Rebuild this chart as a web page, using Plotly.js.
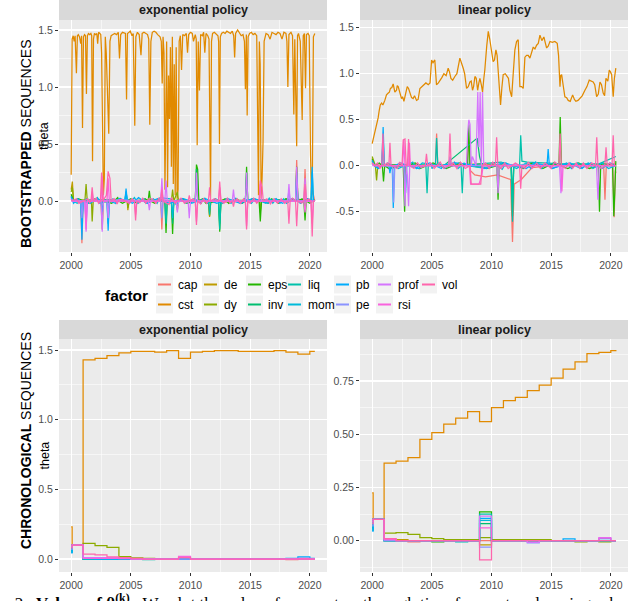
<!DOCTYPE html>
<html><head><meta charset="utf-8">
<script src="https://cdn.plot.ly/plotly-3.0.1.min.js"></script>
<style>html,body{margin:0;padding:0;background:#fff}#chart{width:640px;height:601px}</style>
</head><body><div id="chart"></div>
<script>
// ---------- categories / palette ----------
const factors = ['cap','cst','de','dy','eps','inv','liq','mom','pb','pe','prof','rsi','vol'];
const colors  = ['#F8766D','#E18A00','#BE9C00','#8CAB00','#24B700','#00BE70','#00C1AB','#00BBDA','#00ACFC','#8B93FF','#D575FE','#F962DD','#FF65AC'];
const xTickVals = [2000,2005,2010,2015,2020];
const xTickText = ['2000','2005','2010','2015','2020'];

// ---------- BOOTSTRAPPED / exponential policy  [year, theta] ----------
const bsExp_cap = [[2000,0.05],[2000.3,0.0],[2000.8,-0.01],[2000.9,-0.37],[2001.0,0.0],[2002,0.01],[2003,-0.01],[2004.5,0.01],[2006,0.0],[2007.5,0.0],[2007.6,-0.25],[2007.7,0.01],[2009,0.0],[2011,0.01],[2013,-0.01],[2015,0.0],[2017,0.01],[2018.8,0.0],[2018.9,0.36],[2019.0,0.02],[2019.5,0.0],[2019.6,0.28],[2019.7,0.0],[2020.1,0.0],[2020.2,0.1],[2020.42,0.0]];
const bsExp_cst = [[2000.00,0.23],[2000.08,1.42],[2000.17,1.45],[2000.25,1.40],[2000.33,1.45],[2000.44,1.12],[2000.52,1.45],[2000.6,1.46],[2000.7,1.44],[2000.8,1.38],[2000.87,1.45],[2000.95,0.64],[2001.03,1.44],[2001.12,1.46],[2001.2,1.45],[2001.28,0.94],[2001.36,1.45],[2001.45,1.47],[2001.55,1.46],[2001.65,1.47],[2001.72,1.45],[2001.79,0.35],[2001.87,1.42],[2001.95,1.47],[2002.05,1.46],[2002.15,1.47],[2002.22,1.38],[2002.3,1.48],[2002.4,1.47],[2002.48,1.46],[2002.55,1.3],[2002.62,0.55],[2002.7,0.05],[2002.78,0.2],[2002.86,1.44],[2002.94,1.3],[2003.02,1.05],[2003.15,0.59],[2003.25,1.4],[2003.35,1.45],[2003.5,1.46],[2003.65,1.47],[2003.8,1.46],[2003.95,1.48],[2004.05,1.25],[2004.15,1.46],[2004.3,1.48],[2004.45,1.47],[2004.55,1.47],[2004.64,0.89],[2004.72,1.47],[2004.85,1.48],[2004.95,1.49],[2005.1,1.45],[2005.2,1.47],[2005.33,0.66],[2005.42,1.44],[2005.55,1.48],[2005.7,1.46],[2005.85,1.28],[2005.95,1.47],[2006.1,1.48],[2006.25,1.47],[2006.4,1.46],[2006.5,1.42],[2006.59,0.67],[2006.68,1.4],[2006.8,1.48],[2006.95,1.49],[2007.1,1.48],[2007.25,1.46],[2007.45,1.44],[2007.55,1.4],[2007.63,1.03],[2007.7,1.44],[2007.78,1.3],[2007.86,0.1],[2007.93,0.75],[2008.0,1.4],[2008.08,0.12],[2008.16,1.1],[2008.24,0.72],[2008.32,1.35],[2008.4,0.3],[2008.48,1.44],[2008.56,0.15],[2008.64,1.2],[2008.72,0.05],[2008.8,1.35],[2008.88,0.02],[2008.96,0.1],[2009.05,1.4],[2009.15,1.45],[2009.25,1.15],[2009.35,1.46],[2009.5,1.45],[2009.65,1.47],[2009.75,1.3],[2009.85,1.46],[2010.0,1.48],[2010.15,1.47],[2010.25,1.40],[2010.4,1.46],[2010.48,1.42],[2010.56,0.49],[2010.65,1.4],[2010.75,0.97],[2010.85,1.46],[2011.0,1.45],[2011.1,1.48],[2011.2,1.3],[2011.3,1.47],[2011.45,1.45],[2011.55,1.42],[2011.62,0.2],[2011.68,0.03],[2011.76,1.4],[2011.85,1.47],[2012.0,1.48],[2012.15,1.46],[2012.3,1.45],[2012.36,1.4],[2012.43,0.5],[2012.5,1.44],[2012.6,1.47],[2012.75,1.48],[2012.9,1.47],[2013.05,1.49],[2013.2,1.48],[2013.35,1.47],[2013.5,1.49],[2013.62,1.45],[2013.7,1.26],[2013.78,1.47],[2013.95,1.5],[2014.1,1.47],[2014.25,1.45],[2014.4,1.46],[2014.52,1.4],[2014.6,0.98],[2014.68,1.46],[2014.75,0.75],[2014.83,1.44],[2014.95,1.47],[2015.1,1.48],[2015.25,1.46],[2015.4,1.47],[2015.55,1.45],[2015.63,0.8],[2015.7,0.05],[2015.77,1.4],[2015.84,1.2],[2015.92,0.02],[2016.0,0.2],[2016.08,0.52],[2016.17,1.4],[2016.33,1.47],[2016.5,1.46],[2016.67,1.42],[2016.83,1.48],[2017.0,1.47],[2017.17,1.46],[2017.33,1.48],[2017.5,1.47],[2017.67,1.42],[2017.83,1.48],[2018.0,1.47],[2018.08,1.4],[2018.16,1.0],[2018.25,1.46],[2018.42,1.48],[2018.55,1.45],[2018.66,0.76],[2018.74,1.42],[2018.82,0.93],[2018.9,0.48],[2018.97,1.45],[2019.05,1.47],[2019.2,1.4],[2019.36,0.71],[2019.45,1.45],[2019.55,1.47],[2019.64,0.99],[2019.72,1.46],[2019.85,1.47],[2019.95,1.45],[2020.06,0.4],[2020.14,0.05],[2020.22,0.3],[2020.3,1.44],[2020.42,1.47]];
const bsExp_de = [[2000,0.1],[2000.1,0.17],[2000.2,0.0],[2001,0.01],[2002.5,0.0],[2002.6,-0.25],[2002.7,0.0],[2004.7,0.0],[2004.75,-0.08],[2004.85,0.0],[2006,0.01],[2008.8,0.0],[2008.9,-0.08],[2009,0.0],[2011.5,0.0],[2011.6,-0.14],[2011.7,0.0],[2013,0.01],[2016,0.0],[2018,0.01],[2020.42,0.0]];
const bsExp_dy = [[2000,0.08],[2000.1,0.12],[2000.2,0.0],[2001.15,0.0],[2001.25,0.15],[2001.35,0.0],[2001.7,0.0],[2001.76,-0.18],[2001.85,0.0],[2003,0.01],[2004.7,0.0],[2004.75,-0.06],[2004.85,0.0],[2006.5,0.0],[2008.4,0.0],[2008.5,0.1],[2008.6,0.0],[2008.9,0.08],[2009.0,0.0],[2011.5,0.0],[2011.6,-0.13],[2011.7,0.0],[2013,0.0],[2015.8,0.0],[2015.85,-0.1],[2015.95,0.0],[2018,0.01],[2020.42,0.0]];
const bsExp_eps = [[2000,0.06],[2000.2,0.0],[2002,0.01],[2004,0.0],[2006.45,0.0],[2006.55,0.09],[2006.65,0.0],[2007.85,0.0],[2007.95,-0.28],[2008.05,0.0],[2008.4,0.0],[2008.5,-0.29],[2008.6,0.0],[2010.4,0.0],[2010.5,0.32],[2010.6,0.28],[2010.7,0.0],[2012.35,0.0],[2012.45,-0.27],[2012.55,0.0],[2014.6,0.0],[2014.7,0.3],[2014.8,0.0],[2015.75,0.0],[2015.85,-0.18],[2015.95,0.0],[2018.8,0.0],[2018.9,0.3],[2019.0,0.0],[2019.5,0.0],[2019.6,-0.17],[2019.7,0.0],[2020.42,0.01]];
const bsExp_inv = [[2000,0.04],[2000.2,0.0],[2003,0.01],[2006,0.0],[2008.4,0.0],[2008.5,-0.2],[2008.6,0.0],[2010.4,0.0],[2010.5,0.28],[2010.6,0.0],[2012.35,0.0],[2012.45,-0.2],[2012.55,0.0],[2014.6,0.0],[2014.7,0.25],[2014.8,0.0],[2017,0.01],[2020.42,0.0]];
const bsExp_liq = [[2000,0.03],[2000.2,0.0],[2002,0.01],[2004.5,0.0],[2004.6,0.08],[2004.7,0.0],[2007.85,0.0],[2007.95,-0.2],[2008.05,0.0],[2011.5,0.0],[2011.6,-0.12],[2011.7,0.0],[2012.35,0.0],[2012.45,-0.25],[2012.55,0.0],[2016,0.01],[2020.1,0.0],[2020.2,0.25],[2020.3,0.0],[2020.42,0.01]];
const bsExp_mom = [[2000,0.02],[2000.2,0.0],[2000.8,0.0],[2000.9,-0.2],[2001.0,0.0],[2003.0,0.0],[2003.1,-0.2],[2003.2,0.0],[2004.5,0.0],[2004.6,0.08],[2004.7,0.0],[2008.4,0.0],[2008.5,-0.15],[2008.6,0.0],[2011,0.01],[2014,0.0],[2018.8,0.0],[2018.9,0.2],[2019.0,0.0],[2020.42,0.0]];
const bsExp_pb = [[2000,0.04],[2000.2,-0.02],[2000.8,0.0],[2000.9,-0.34],[2001.0,0.0],[2002.5,0.0],[2002.6,-0.1],[2002.7,0.0],[2003.0,0.0],[2003.1,-0.26],[2003.2,0.0],[2004.5,0.0],[2004.6,0.11],[2004.7,0.0],[2007,0.01],[2010,0.0],[2013,0.01],[2016,0.0],[2018.8,0.0],[2018.9,0.25],[2019.0,0.0],[2020.1,0.0],[2020.2,0.3],[2020.3,0.0],[2020.42,0.0]];
const bsExp_pe = [[2000,0.02],[2000.2,0.0],[2000.8,0.0],[2000.9,-0.15],[2001.0,0.0],[2001.15,0.0],[2001.25,-0.2],[2001.35,0.0],[2004,0.01],[2007.5,0.0],[2007.6,-0.15],[2007.7,0.0],[2012,0.0],[2018.15,0.0],[2018.25,0.1],[2018.35,0.0],[2020.42,0.0]];
const bsExp_prof = [[2000,0.0],[2000.2,0.0],[2001.15,0.0],[2001.25,-0.27],[2001.35,0.0],[2002.5,0.0],[2002.6,-0.27],[2002.7,0.0],[2003.0,0.0],[2003.1,-0.15],[2003.2,0.0],[2006.45,0.0],[2006.55,-0.08],[2006.65,0.0],[2007.5,0.0],[2007.6,0.2],[2007.7,0.0],[2007.85,0.0],[2007.95,0.18],[2008.05,0.0],[2008.8,0.0],[2008.9,-0.1],[2009.0,0.0],[2009.8,0.0],[2009.9,-0.15],[2010.0,0.0],[2010.4,0.0],[2010.5,0.25],[2010.6,0.0],[2013.5,0.0],[2013.6,0.1],[2013.7,0.0],[2014.6,0.0],[2014.7,0.25],[2014.8,0.0],[2018.15,0.0],[2018.25,0.15],[2018.35,0.0],[2018.8,0.0],[2018.9,0.3],[2019.0,0.0],[2019.5,0.0],[2019.6,0.2],[2019.7,0.0],[2020.42,0.0]];
const bsExp_rsi = [[2000,0.01],[2000.2,0.0],[2001.15,0.0],[2001.25,-0.25],[2001.35,0.0],[2001.7,0.0],[2001.76,0.08],[2001.85,0.0],[2002.5,0.0],[2002.6,0.22],[2002.7,0.0],[2003.0,0.0],[2003.1,0.2],[2003.2,0.0],[2005.3,0.0],[2005.4,-0.12],[2005.5,0.0],[2007.5,0.0],[2007.6,0.12],[2007.7,0.0],[2010.4,0.0],[2010.5,-0.18],[2010.6,0.0],[2012.35,0.0],[2012.45,0.12],[2012.55,0.0],[2014.6,0.0],[2014.7,-0.22],[2014.8,0.0],[2015.75,0.0],[2015.85,0.15],[2015.95,0.0],[2019.5,0.0],[2019.6,-0.1],[2019.7,0.0],[2020.1,0.0],[2020.2,-0.2],[2020.3,0.0],[2020.42,0.0]];
const bsExp_vol = [[2000,0.0],[2000.3,0.01],[2001.0,0.0],[2001.66,0.0],[2001.76,0.12],[2001.86,0.0],[2002.45,0.0],[2002.55,0.25],[2002.65,0.0],[2002.95,0.05],[2003.1,0.26],[2003.25,0.2],[2003.35,0.0],[2004,0.01],[2005.3,0.0],[2005.4,-0.17],[2005.5,0.0],[2006.5,0.02],[2007.5,0.0],[2007.6,0.1],[2007.7,0.0],[2009.8,0.0],[2009.9,0.05],[2010.0,0.0],[2010.4,0.0],[2010.5,-0.21],[2010.6,0.0],[2011.5,0.0],[2011.6,0.12],[2011.7,0.0],[2012.35,0.0],[2012.45,0.17],[2012.55,0.0],[2013.5,0.0],[2013.6,-0.05],[2013.7,0.0],[2014.6,0.0],[2014.7,-0.25],[2014.8,0.0],[2015.75,0.0],[2015.85,0.18],[2016.0,0.12],[2016.1,0.0],[2018.15,0.0],[2018.25,-0.2],[2018.35,0.0],[2018.8,0.0],[2018.9,-0.22],[2019.0,0.0],[2019.5,0.0],[2019.6,0.15],[2019.7,0.0],[2020.1,0.0],[2020.2,-0.31],[2020.3,0.0],[2020.42,0.0]];
// small month-to-month wiggles around zero (extra observations of the same series)
const bsExpJit_eps = [[2000.6,0.02],[2001.5,-0.02],[2002.0,0.02],[2003.4,-0.02],[2003.9,0.03],[2004.3,-0.02],[2005.0,0.02],[2005.5,-0.02],[2006.2,0.02],[2007.0,-0.02],[2007.3,0.02],[2009.4,0.02],[2009.7,-0.02],[2011.0,0.02],[2011.3,-0.02],[2012.9,0.02],[2013.2,-0.02],[2013.85,0.02],[2014.35,-0.02],[2015.2,0.02],[2016.5,-0.02],[2016.8,0.02],[2017.4,-0.02],[2018.0,0.02],[2019.35,0.02],[2020.0,-0.02]];
const bsExpJit_mom = [[2000.5,-0.02],[2001.3,0.02],[2001.6,-0.02],[2002.2,0.03],[2002.4,-0.02],[2003.5,0.02],[2003.75,-0.02],[2004.1,0.025],[2004.85,-0.02],[2005.3,0.03],[2005.6,-0.02],[2006.1,0.02],[2006.4,-0.02],[2006.9,0.02],[2007.2,-0.02],[2007.45,0.03],[2008.3,0.02],[2008.8,-0.03],[2009.3,0.02],[2009.6,-0.02],[2010.3,0.02],[2010.9,-0.02],[2011.2,0.025],[2011.4,-0.02],[2012.1,0.02],[2012.7,-0.02],[2013.0,0.02],[2013.4,-0.02],[2013.8,0.025],[2014.3,-0.02],[2014.5,0.02],[2015.1,-0.02],[2015.4,0.02],[2016.3,-0.02],[2016.6,0.025],[2016.9,-0.02],[2017.2,0.02],[2017.5,-0.02],[2017.8,0.02],[2018.05,-0.02],[2018.6,0.02],[2019.2,-0.02],[2019.8,0.02]];
const bsExpJit_pb = [[2000.55,0.02],[2001.45,-0.02],[2002.25,0.02],[2003.7,-0.02],[2004.0,0.02],[2005.15,-0.02],[2005.65,0.03],[2006.3,-0.02],[2007.25,0.02],[2008.25,-0.02],[2009.4,0.02],[2010.1,-0.02],[2011.25,0.02],[2012.2,-0.02],[2013.15,0.02],[2014.15,-0.02],[2015.2,0.02],[2016.5,-0.02],[2017.1,0.02],[2017.7,-0.02],[2018.5,0.02],[2019.25,-0.02],[2019.85,0.02]];
const bsExpJit_vol = [[2000.45,0.02],[2000.65,-0.02],[2001.4,0.02],[2001.55,-0.015],[2002.1,0.025],[2002.3,-0.02],[2003.6,0.02],[2003.85,-0.025],[2004.25,0.015],[2004.9,-0.02],[2005.1,0.02],[2005.75,-0.015],[2006.0,0.025],[2006.25,-0.02],[2006.8,0.02],[2007.1,-0.02],[2007.35,0.025],[2008.2,-0.03],[2008.4,0.03],[2008.7,-0.02],[2009.2,0.025],[2009.5,-0.02],[2010.2,0.02],[2010.85,-0.025],[2011.1,0.02],[2011.35,-0.02],[2012.0,0.02],[2012.8,-0.02],[2013.1,0.025],[2013.3,-0.015],[2013.9,0.02],[2014.2,-0.02],[2014.45,0.02],[2015.0,-0.02],[2015.3,0.025],[2015.55,-0.02],[2016.4,0.02],[2016.7,-0.025],[2017.0,0.02],[2017.3,-0.02],[2017.6,0.02],[2017.9,-0.02],[2018.55,0.025],[2019.3,-0.02],[2019.9,0.02]];

// ---------- BOOTSTRAPPED / linear policy ----------
const bsLin_cap = [[2000,0.05],[2000.3,0.0],[2002,0.01],[2005.3,0.0],[2005.4,0.35],[2005.5,0.0],[2007,0.01],[2007.95,0.0],[2008.06,0.35],[2008.2,-0.05],[2008.6,-0.1],[2009.5,-0.12],[2010.5,-0.1],[2011.6,-0.15],[2011.76,-0.83],[2011.9,-0.2],[2012.5,-0.15],[2013.4,-0.02],[2015,0.0],[2017,0.01],[2019.4,0.0],[2019.51,-0.37],[2019.62,0.0],[2020.15,0.0],[2020.28,-0.56],[2020.38,-0.05],[2020.42,-0.08]];
const bsLin_cst = [[2000.0,0.24],[2000.22,0.35],[2000.36,0.42],[2000.59,0.6],[2000.79,0.68],[2001.06,0.71],[2001.35,0.79],[2001.53,0.84],[2001.76,0.89],[2002.04,0.82],[2002.18,0.86],[2002.46,0.73],[2002.66,0.70],[2002.94,0.86],[2003.16,0.79],[2003.43,0.73],[2003.72,0.71],[2004.0,0.84],[2004.33,0.88],[2004.7,0.88],[2004.98,1.15],[2005.25,1.15],[2005.39,0.88],[2005.73,0.93],[2006.01,1.0],[2006.37,1.06],[2006.6,0.95],[2006.93,0.97],[2007.35,1.17],[2007.63,1.06],[2007.91,0.84],[2008.19,0.91],[2008.41,0.82],[2008.61,0.97],[2008.84,0.82],[2009.03,0.95],[2009.25,0.8],[2009.44,1.04],[2009.73,1.46],[2009.95,1.29],[2010.14,1.13],[2010.37,1.26],[2010.56,0.99],[2010.76,0.66],[2010.98,0.99],[2011.31,0.97],[2011.54,0.82],[2011.69,0.75],[2011.96,1.26],[2012.24,1.37],[2012.38,0.86],[2012.66,0.84],[2012.94,1.2],[2013.22,1.17],[2013.5,1.29],[2013.78,1.31],[2014.06,1.42],[2014.39,1.40],[2014.62,1.28],[2014.9,1.35],[2015.31,1.35],[2015.51,1.33],[2015.74,0.86],[2015.88,0.99],[2016.15,0.75],[2016.43,0.71],[2016.8,0.77],[2017.07,0.70],[2017.41,0.73],[2017.83,0.82],[2018.19,0.93],[2018.52,0.91],[2018.81,0.75],[2019.09,0.91],[2019.36,0.79],[2019.59,0.95],[2019.87,1.04],[2020.07,0.99],[2020.2,0.75],[2020.42,1.06]];
const bsLinJit_cst = [[2000.5,0.52],[2000.68,0.66],[2000.9,0.66],[2001.2,0.77],[2001.44,0.8],[2001.65,0.85],[2001.9,0.8],[2002.1,0.87],[2002.3,0.8],[2002.55,0.75],[2002.8,0.78],[2003.05,0.84],[2003.3,0.74],[2003.55,0.76],[2003.85,0.72],[2004.15,0.86],[2004.5,0.9],[2004.85,0.9],[2005.1,1.12],[2005.55,0.9],[2005.85,0.96],[2006.2,0.98],[2006.48,1.02],[2006.75,0.93],[2007.1,1.0],[2007.5,1.12],[2007.75,1.0],[2008.05,0.86],[2008.3,0.92],[2008.5,0.86],[2008.72,0.95],[2008.94,0.9],[2009.15,0.88],[2009.35,0.94],[2009.6,1.3],[2009.85,1.38],[2010.05,1.2],[2010.25,1.15],[2010.47,1.2],[2010.66,0.8],[2010.87,0.85],[2011.15,1.0],[2011.42,0.95],[2011.82,1.0],[2012.1,1.35],[2012.52,0.86],[2012.8,1.18],[2013.08,1.2],[2013.36,1.22],[2013.64,1.27],[2013.92,1.33],[2014.22,1.36],[2014.5,1.34],[2014.75,1.3],[2015.1,1.34],[2015.42,1.34],[2015.62,1.2],[2015.8,0.98],[2016.0,0.88],[2016.3,0.74],[2016.6,0.7],[2016.95,0.72],[2017.25,0.71],[2017.6,0.76],[2018.0,0.86],[2018.35,0.92],[2018.65,0.88],[2018.95,0.78],[2019.22,0.88],[2019.48,0.76],[2019.75,0.92],[2019.97,1.02],[2020.3,0.95]];
const bsLin_de = [[2000,0.08],[2000.2,0.0],[2003,0.01],[2006,0.0],[2009,0.02],[2012,0.0],[2015,0.01],[2018,0.0],[2020.42,0.02]];
const bsLin_dy = [[2000,0.1],[2000.27,0.0],[2000.37,-0.16],[2000.47,0.0],[2002,0.01],[2004,0.0],[2007,0.01],[2009,0.0],[2012,0.0],[2016,0.01],[2020.42,0.0]];
const bsLin_eps = [[2000,0.07],[2000.2,0.0],[2000.85,0.0],[2000.95,-0.17],[2001.05,0.0],[2002.6,0.0],[2002.72,-0.5],[2002.82,0.0],[2004,0.0],[2007,0.01],[2008.0,0.0],[2008.1,0.45],[2008.2,0.0],[2010.45,0.0],[2010.55,-0.37],[2010.65,0.0],[2011.65,0.0],[2011.76,-0.55],[2011.86,0.0],[2013,0.01],[2015.65,0.0],[2015.76,0.53],[2015.86,0.0],[2018.95,0.0],[2019.05,-0.5],[2019.15,0.0],[2020.15,0.0],[2020.25,-0.55],[2020.33,-0.3],[2020.42,0.05]];
const bsLin_inv = [[2000,0.05],[2000.2,0.0],[2003,0.01],[2006,0.0],[2008.8,0.3],[2009.0,0.1],[2009.2,0.0],[2011.65,0.0],[2011.76,-0.4],[2011.86,0.0],[2014,0.01],[2018,0.0],[2020.42,0.0]];
const bsLin_liq = [[2000,0.04],[2000.2,0.0],[2003,0.0],[2004.5,0.0],[2004.6,-0.3],[2004.7,0.0],[2005.3,0.0],[2005.4,0.3],[2005.5,0.0],[2007.45,0.0],[2007.55,-0.3],[2007.65,0.0],[2009,0.02],[2010.8,0.04],[2011.65,0.0],[2011.76,-0.61],[2011.86,0.0],[2012.35,0.0],[2012.45,0.33],[2012.55,0.05],[2013,0.04],[2016,0.02],[2019,0.02],[2020.42,0.1]];
const bsLin_mom = [[2000,0.03],[2000.2,0.0],[2000.8,0.0],[2000.92,0.3],[2001.02,0.0],[2002.7,0.0],[2002.8,-0.3],[2002.9,0.0],[2005,0.01],[2008,0.0],[2010,0.02],[2014,0.0],[2017,0.01],[2020.42,0.0]];
const bsLin_pb = [[2000,0.06],[2000.2,0.0],[2000.8,0.0],[2000.92,0.42],[2001.02,0.0],[2001.4,0.0],[2001.49,-0.08],[2001.58,0.0],[2001.68,0.0],[2001.77,-0.46],[2001.86,0.0],[2003,0.0],[2006,0.01],[2009,0.0],[2012,0.0],[2014.65,0.0],[2014.75,0.18],[2014.85,0.0],[2017,0.0],[2020.42,0.0]];
const bsLin_pe = [[2000,0.02],[2000.2,0.0],[2001.7,0.0],[2001.8,-0.4],[2001.9,0.0],[2004,0.0],[2006.42,0.0],[2006.52,0.1],[2006.62,0.0],[2009,0.0],[2012,0.01],[2015,0.0],[2018,0.0],[2020.42,0.0]];
const bsLin_prof = [[2000,0.0],[2000.2,0.0],[2002.65,0.0],[2002.75,-0.44],[2002.85,0.0],[2002.95,-0.1],[2003.05,-0.44],[2003.15,0.0],[2005,0.0],[2007.9,0.0],[2008.0,0.35],[2008.1,0.5],[2008.2,0.45],[2008.3,0.0],[2008.4,0.1],[2008.7,0.0],[2008.85,0.8],[2008.95,0.2],[2009.05,0.8],[2009.15,0.0],[2009.25,0.8],[2009.35,0.0],[2010.45,0.0],[2010.55,-0.3],[2010.65,0.0],[2013,0.0],[2015.7,0.0],[2015.82,-0.3],[2015.92,0.0],[2018.8,0.0],[2018.92,-0.37],[2019.02,0.0],[2020,0.0],[2020.42,0.0]];
const bsLin_rsi = [[2000,0.03],[2000.2,0.0],[2002.55,0.0],[2002.65,0.28],[2002.75,0.0],[2003.05,0.0],[2003.12,0.25],[2003.2,0.0],[2005,0.0],[2008.15,0.0],[2008.25,-0.2],[2008.95,-0.2],[2009.2,-0.1],[2009.3,0.0],[2012,0.0],[2015.8,0.0],[2015.9,-0.28],[2016.0,0.0],[2018,0.0],[2020.42,0.0]];
const bsLin_vol = [[2000,0.03],[2000.2,0.0],[2000.8,0.0],[2000.9,0.35],[2001.0,0.0],[2001.4,0.0],[2001.49,0.25],[2001.58,0.0],[2002.5,0.0],[2002.6,0.28],[2002.75,0.29],[2002.85,0.0],[2002.95,0.0],[2003.05,0.29],[2003.15,0.0],[2004.45,0.0],[2004.55,0.13],[2004.65,0.0],[2006.42,0.0],[2006.52,0.35],[2006.62,0.0],[2008.2,0.0],[2008.3,-0.2],[2009.1,-0.2],[2009.2,0.0],[2010.33,0.0],[2010.43,0.31],[2010.53,0.0],[2012.35,0.0],[2012.45,-0.25],[2012.55,0.0],[2015.65,0.0],[2015.75,0.35],[2015.85,0.0],[2018.72,0.0],[2018.82,0.31],[2018.92,0.0],[2019.5,0.0],[2019.6,0.2],[2019.7,0.0],[2020.1,0.0],[2020.2,0.33],[2020.3,0.0],[2020.42,0.0]];
const bsLinJit_eps = [[2000.6,0.03],[2001.4,-0.03],[2003.6,0.03],[2004.0,-0.03],[2005.1,0.03],[2006.2,-0.03],[2007.3,0.03],[2009.7,-0.03],[2011.0,0.03],[2012.7,-0.03],[2013.5,0.03],[2014.3,-0.03],[2015.2,0.03],[2016.4,-0.03],[2017.3,0.03],[2018.2,-0.03],[2019.3,0.03]];
const bsLinJit_mom = [[2000.5,-0.03],[2001.3,0.03],[2002.2,-0.03],[2003.4,0.04],[2003.7,-0.03],[2004.2,0.03],[2005.0,-0.03],[2005.6,0.03],[2006.1,-0.03],[2006.9,0.04],[2007.2,-0.03],[2007.7,0.03],[2009.6,-0.03],[2010.2,0.03],[2010.9,-0.04],[2011.2,0.03],[2012.1,-0.03],[2012.9,0.03],[2013.3,-0.03],[2013.7,0.04],[2014.2,-0.03],[2014.6,0.03],[2015.1,-0.03],[2016.3,0.03],[2016.7,-0.03],[2017.2,0.03],[2017.6,-0.03],[2018.1,0.03],[2018.5,-0.03],[2019.3,0.03],[2019.8,-0.03]];
const bsLinJit_pb = [[2000.55,-0.03],[2002.4,0.03],[2003.9,-0.03],[2004.8,0.03],[2005.8,-0.03],[2007.0,0.03],[2009.45,-0.03],[2010.95,0.03],[2012.9,-0.03],[2013.6,0.03],[2015.05,-0.03],[2016.6,0.03],[2017.5,-0.03],[2018.3,0.03],[2019.25,-0.03],[2019.95,0.03]];
const bsLinJit_vol = [[2000.45,0.03],[2000.65,-0.03],[2001.25,0.03],[2002.1,-0.03],[2002.3,0.04],[2003.5,-0.03],[2003.8,0.03],[2004.1,-0.02],[2004.9,0.03],[2005.2,-0.03],[2005.7,0.04],[2006.0,-0.03],[2006.8,0.03],[2007.1,-0.03],[2007.4,0.04],[2007.8,-0.03],[2009.5,0.03],[2009.8,-0.03],[2010.1,0.04],[2010.8,-0.03],[2011.1,0.03],[2011.4,-0.03],[2012.0,0.03],[2012.8,-0.03],[2013.1,0.04],[2013.4,-0.03],[2013.8,0.03],[2014.1,-0.03],[2014.5,0.03],[2015.0,-0.03],[2015.3,0.04],[2016.2,-0.03],[2016.5,0.03],[2016.8,-0.03],[2017.1,0.03],[2017.4,-0.03],[2017.7,0.03],[2018.0,-0.03],[2018.4,0.03],[2019.2,-0.03],[2019.9,0.03]];

// ---------- CHRONOLOGICAL (yearly steps) ----------
const chrT = [2000,2000.08,2001,2002,2003,2004,2005,2006,2007,2008,2009,2010,2011,2012,2013,2014,2015,2016,2017,2018,2019,2020,2020.42];
const chrExp_cap  = [0.07,0.1,0.0,0.0,0.005,0.0,0.0,0.0,0.0,0.0,0.005,0.0,0.0,0.0,0.0,0.0,0.0,0.0,0.0,-0.005,0.0,0.0,0.0];
const chrExp_cst  = [0.23,0.10,1.43,1.44,1.46,1.48,1.49,1.49,1.485,1.495,1.44,1.485,1.49,1.495,1.495,1.49,1.49,1.49,1.495,1.485,1.47,1.49,1.49];
const chrExp_de   = [0.08,0.1,0.005,0.0,0.0,0.0,0.0,0.0,0.0,0.0,0.0,0.0,0.0,0.0,0.0,0.0,0.0,0.0,0.0,0.0,0.0,0.0,0.0];
const chrExp_dy   = [0.08,0.1,0.113,0.096,0.083,0.018,0.008,0.005,0.003,0.002,0.002,0.0,0.0,0.0,0.0,0.0,0.0,0.0,0.0,0.0,0.0,0.0,0.0];
const chrExp_eps  = [0.06,0.1,0.0,0.0,0.0,0.0,0.0,0.0,0.0,0.0,0.0,0.0,0.0,0.0,0.0,0.0,0.0,0.0,0.0,0.0,0.0,0.0,0.0];
const chrExp_inv  = [0.05,0.1,0.0,0.0,0.0,0.0,0.0,0.0,0.0,0.0,0.0,0.0,0.0,0.0,0.0,0.0,0.0,0.0,0.0,0.0,0.0,0.0,0.0];
const chrExp_liq  = [0.06,0.1,0.0,0.0,0.0,0.0,0.0,-0.005,0.0,0.0,0.0,0.0,0.0,0.0,0.0,0.0,0.0,0.0,0.0,0.0,0.0,0.0,0.0];
const chrExp_mom  = [0.05,0.1,0.0,0.0,0.0,0.0,0.0,0.0,0.0,0.0,0.0,-0.003,0.0,0.0,0.0,0.0,0.0,0.0,0.0,0.0,0.005,0.0,0.0];
const chrExp_pb   = [0.045,0.1,0.005,0.0,0.0,0.0,0.0,0.0,0.0,0.0,0.0,0.0,0.0,0.0,0.0,0.0,0.0,0.0,0.0,0.005,0.015,0.005,0.005];
const chrExp_pe   = [0.07,0.1,0.01,0.008,0.006,0.004,0.0,0.0,0.0,0.0,0.0,0.0,0.0,0.0,0.0,0.0,0.0,0.0,0.0,0.0,0.0,0.0,0.0];
const chrExp_prof = [0.09,0.1,0.01,0.01,0.008,0.005,0.003,0.0,0.0,0.0,0.01,0.0,0.0,0.0,0.0,0.0,0.0,0.0,0.0,0.0,0.0,0.0,0.0];
const chrExp_rsi  = [0.1,0.1,0.005,0.005,0.005,0.003,0.0,0.0,0.0,0.0,0.02,0.0,0.0,0.0,0.0,0.0,0.0,0.0,0.0,0.0,0.005,0.0,0.0];
const chrExp_vol  = [0.08,0.1,0.035,0.03,0.015,0.01,0.005,0.0,0.0,0.0,0.01,0.0,0.0,0.0,0.0,0.0,0.0,0.0,0.0,0.0,0.0,0.0,0.0];

const chrLin_cap  = [0.06,0.1,0.0,0.0,-0.005,0.0,0.0,0.0,0.0,0.0,0.0,0.0,0.0,0.0,0.0,0.0,0.0,0.0,0.0,0.0,0.0,0.0,0.0];
const chrLin_cst  = [0.225,0.10,0.364,0.374,0.39,0.476,0.507,0.547,0.575,0.606,0.559,0.625,0.658,0.673,0.705,0.731,0.763,0.805,0.84,0.878,0.884,0.893,0.895];
const chrLin_de   = [0.08,0.1,0.005,0.005,0.0,0.0,0.0,0.0,0.0,0.0,-0.02,0.0,0.0,0.0,0.0,0.0,0.0,0.0,0.0,0.0,0.0,0.0,0.0];
const chrLin_dy   = [0.08,0.1,0.035,0.038,0.03,0.015,0.01,0.005,0.005,0.005,0.015,0.005,0.005,0.005,0.005,0.005,0.0,0.0,-0.005,0.0,-0.005,0.0,0.0];
const chrLin_eps  = [0.06,0.1,0.0,0.0,0.0,0.0,-0.005,0.0,0.0,0.0,0.135,0.0,0.0,0.0,0.0,0.0,0.0,0.0,0.0,0.0,0.0,0.0,0.0];
const chrLin_inv  = [0.05,0.1,0.0,0.0,0.0,0.0,0.0,0.0,0.0,0.0,0.08,0.0,0.0,0.0,0.0,0.0,0.0,0.0,0.0,0.0,0.0,0.0,0.0];
const chrLin_liq  = [0.06,0.1,0.0,0.0,0.0,0.0,0.0,0.0,-0.005,0.0,0.125,0.0,0.0,0.0,0.0,0.0,0.0,0.0,0.0,0.0,0.0,0.0,0.0];
const chrLin_mom  = [0.05,0.1,0.0,0.0,0.0,0.0,0.0,0.0,0.0,0.0,0.095,0.0,0.0,0.0,0.0,0.0,0.0,0.0,0.0,0.0,0.0,0.0,0.0];
const chrLin_pb   = [0.045,0.1,0.0,0.0,0.0,0.0,0.0,0.0,0.0,0.0,0.105,0.0,0.0,0.0,0.0,0.0,0.0,0.008,0.0,0.0,0.01,0.0,0.0];
const chrLin_pe   = [0.07,0.1,0.0,0.0,0.0,0.0,0.0,0.0,0.0,0.0,-0.03,0.0,0.0,0.0,-0.01,0.0,0.0,0.0,0.0,0.0,0.0,0.0,0.0];
const chrLin_prof = [0.09,0.1,0.01,0.0,0.0,0.0,0.0,0.0,0.0,0.0,0.115,0.0,0.0,0.0,-0.008,0.0,0.0,0.0,0.0,0.0,0.015,0.0,0.0];
const chrLin_rsi  = [0.1,0.1,0.005,0.0,0.0,0.0,0.0,0.0,0.0,0.0,0.06,0.0,0.0,0.0,0.0,0.0,0.0,0.0,0.0,0.0,0.012,0.0,0.0];
const chrLin_vol  = [0.08,0.1,0.01,0.0,0.0,0.0,0.0,0.0,0.0,0.0,-0.09,0.0,0.0,0.0,0.0,0.0,0.0,0.0,0.0,0.0,0.0,0.0,0.0];

// y tick labels per panel
const yTL_vals = [0,0.5,1,1.5],        yTL_text = ['0.0','0.5','1.0','1.5'];
const yTR_vals = [-0.5,0,0.5,1,1.5],   yTR_text = ['-0.5','0.0','0.5','1.0','1.5'];
const yBR_vals = [0,0.25,0.5,0.75],    yBR_text = ['0.00','0.25','0.50','0.75'];

// ---------- build ----------
const bsExp = [bsExp_cap,bsExp_cst,bsExp_de,bsExp_dy,bsExp_eps,bsExp_inv,bsExp_liq,bsExp_mom,bsExp_pb,bsExp_pe,bsExp_prof,bsExp_rsi,bsExp_vol];
const bsExpJit = [null,null,null,null,bsExpJit_eps,null,null,bsExpJit_mom,bsExpJit_pb,null,null,null,bsExpJit_vol];
const bsLin = [bsLin_cap,bsLin_cst,bsLin_de,bsLin_dy,bsLin_eps,bsLin_inv,bsLin_liq,bsLin_mom,bsLin_pb,bsLin_pe,bsLin_prof,bsLin_rsi,bsLin_vol];
const bsLinJit = [null,bsLinJit_cst,null,null,bsLinJit_eps,null,null,bsLinJit_mom,bsLinJit_pb,null,null,null,bsLinJit_vol];
const chrExp = [chrExp_cap,chrExp_cst,chrExp_de,chrExp_dy,chrExp_eps,chrExp_inv,chrExp_liq,chrExp_mom,chrExp_pb,chrExp_pe,chrExp_prof,chrExp_rsi,chrExp_vol];
const chrLin = [chrLin_cap,chrLin_cst,chrLin_de,chrLin_dy,chrLin_eps,chrLin_inv,chrLin_liq,chrLin_mom,chrLin_pb,chrLin_pe,chrLin_prof,chrLin_rsi,chrLin_vol];

const W = 640, H = 601;
const px = v => v / W, py = v => 1 - v / H;
const FONT = 'Liberation Sans, Arial, sans-serif';

const traces = [];
function addPairs(list, extra, xa, ya) {
  list.forEach((arr, i) => {
    const all = (extra[i] ? arr.concat(extra[i]) : arr.slice()).sort((a, b) => a[0] - b[0]);
    traces.push({type:'scatter', mode:'lines', x: all.map(p => p[0]), y: all.map(p => p[1]),
      xaxis: xa, yaxis: ya, line: {color: colors[i], width: 1.25}, hoverinfo: 'skip', showlegend: false, name: factors[i]});
  });
}
function addSteps(list, xa, ya) {
  list.forEach((arr, i) => traces.push({type:'scatter', mode:'lines', x: chrT, y: arr,
    xaxis: xa, yaxis: ya, line: {color: colors[i], width: 1.25, shape: 'hv'}, hoverinfo: 'skip', showlegend: false, name: factors[i]}));
}
addPairs(bsExp, bsExpJit, 'x', 'y');
addPairs(bsLin, bsLinJit, 'x2', 'y2');
addSteps(chrExp, 'x3', 'y3');
addSteps(chrLin, 'x4', 'y4');

const panels = [
  {xd:[59,327],  yd:[20,252],  yr:[-0.447,1.588], tv:yTL_vals, tt:yTL_text, minor:[-0.25,0.25,0.75,1.25], strip:[0,20],   title:'exponential policy'},
  {xd:[360,628], yd:[20,252],  yr:[-0.938,1.584], tv:yTR_vals, tt:yTR_text, minor:[-0.75,-0.25,0.25,0.75,1.25], strip:[0,20], title:'linear policy'},
  {xd:[59,327],  yd:[339,572], yr:[-0.093,1.579], tv:yTL_vals, tt:yTL_text, minor:[0.25,0.75,1.25], strip:[320,339], title:'exponential policy'},
  {xd:[360,628], yd:[339,572], yr:[-0.147,0.947], tv:yBR_vals, tt:yBR_text, minor:[-0.125,0.125,0.375,0.625,0.875], strip:[320,339], title:'linear policy'}
];

const layout = {
  width: W, height: H, margin: {l:0, r:0, t:0, b:0}, paper_bgcolor: '#ffffff', plot_bgcolor: '#EBEBEB',
  showlegend: false, font: {family: FONT, color: '#1A1A1A'}, shapes: [], annotations: []
};
panels.forEach((p, k) => {
  const s = k === 0 ? '' : String(k + 1);
  layout['xaxis' + s] = {domain: [px(p.xd[0]), px(p.xd[1])], range: [1998.98, 2021.44], anchor: 'y' + s,
    tickmode: 'array', tickvals: xTickVals, ticktext: xTickText, ticks: 'outside', ticklen: 3, tickwidth: 1, tickcolor: '#333333',
    tickfont: {size: 10.5, color: '#4D4D4D', family: FONT}, showgrid: true, gridcolor: '#FFFFFF', gridwidth: 1.2, zeroline: false, showline: false,
    minor: {tickmode: 'array', tickvals: [2002.5, 2007.5, 2012.5, 2017.5], showgrid: true, gridcolor: '#FFFFFF', gridwidth: 0.55, ticks: ''}};
  layout['yaxis' + s] = {domain: [py(p.yd[1]), py(p.yd[0])], range: p.yr, anchor: 'x' + s,
    tickmode: 'array', tickvals: p.tv, ticktext: p.tt, ticks: 'outside', ticklen: 3, tickwidth: 1, tickcolor: '#333333',
    tickfont: {size: 10.5, color: '#4D4D4D', family: FONT}, showgrid: true, gridcolor: '#FFFFFF', gridwidth: 1.2, zeroline: false, showline: false,
    minor: {tickmode: 'array', tickvals: p.minor, showgrid: true, gridcolor: '#FFFFFF', gridwidth: 0.55, ticks: ''}};
  layout.shapes.push({type: 'rect', xref: 'paper', yref: 'paper', x0: px(p.xd[0]), x1: px(p.xd[1]), y0: py(p.strip[1]), y1: py(p.strip[0]),
    fillcolor: '#D9D9D9', line: {width: 0}, layer: 'below'});
  layout.annotations.push({xref: 'paper', yref: 'paper', x: px((p.xd[0] + p.xd[1]) / 2), y: py((p.strip[0] + p.strip[1]) / 2),
    text: '<b>' + p.title + '</b>', showarrow: false, xanchor: 'center', yanchor: 'middle', font: {size: 12.5, color: '#1A1A1A', family: FONT}});
});

// axis titles and row labels
[[20,252],[339,572]].forEach(r => {
  layout.annotations.push({xref:'paper', yref:'paper', x: px(44), y: py((r[0]+r[1])/2), text: 'theta', textangle: -90, showarrow: false,
    xanchor: 'center', yanchor: 'middle', font: {size: 12.5, color: '#000', family: FONT}});
});
layout.annotations.push({xref:'paper', yref:'paper', x: px(25.5), y: py(143.5), text: '<b>BOOTSTRAPPED</b> SEQUENCES', textangle: -90,
  showarrow: false, xanchor: 'center', yanchor: 'middle', font: {size: 14, color: '#000', family: FONT}});
layout.annotations.push({xref:'paper', yref:'paper', x: px(25.5), y: py(440.5), text: '<b>CHRONOLOGICAL</b> SEQUENCES', textangle: -90,
  showarrow: false, xanchor: 'center', yanchor: 'middle', font: {size: 14, color: '#000', family: FONT}});

// legend (drawn manually, ggplot style: 2 rows, column-major)
const legColX = [157, 203, 247, 287, 335, 377, 421];
const legRowY = [284.5, 304.5];
layout.annotations.push({xref:'paper', yref:'paper', x: px(126), y: py(295), text: '<b>factor</b>', showarrow: false,
  xanchor: 'center', yanchor: 'middle', font: {size: 15.5, color: '#000', family: FONT}});
factors.forEach((f, i) => {
  const c = Math.floor(i / 2), r = i % 2;
  const x0 = legColX[c], y0 = legRowY[r];
  layout.shapes.push({type:'rect', xref:'paper', yref:'paper', x0: px(x0 - 1), x1: px(x0 + 16), y0: py(y0 + 9), y1: py(y0 - 9),
    fillcolor: '#F2F2F2', line: {width: 0}, layer: 'below'});
  layout.shapes.push({type:'line', xref:'paper', yref:'paper', x0: px(x0 + 1), x1: px(x0 + 14), y0: py(y0), y1: py(y0),
    line: {color: colors[i], width: 2}});
  layout.annotations.push({xref:'paper', yref:'paper', x: px(x0 + 19), y: py(y0), text: f, showarrow: false,
    xanchor: 'left', yanchor: 'middle', font: {size: 12, color: '#000', family: FONT}});
});

// caption, clipped by the bottom edge as in the reference
layout.annotations.push({xref:'paper', yref:'paper', x: px(1), y: py(588.5), xanchor: 'left', yanchor: 'top', showarrow: false,
  text: 'e 2.\u00a0\u00a0<b>Values of θ<sup>(k)</sup>.</b>\u00a0\u00a0We plot the value of parameters through time for our two learning schemes',
  font: {size: 17, color: '#000', family: 'Liberation Serif, DejaVu Serif, serif'}});

Plotly.newPlot('chart', traces, layout, {displayModeBar: false, staticPlot: true});
</script></body></html>
